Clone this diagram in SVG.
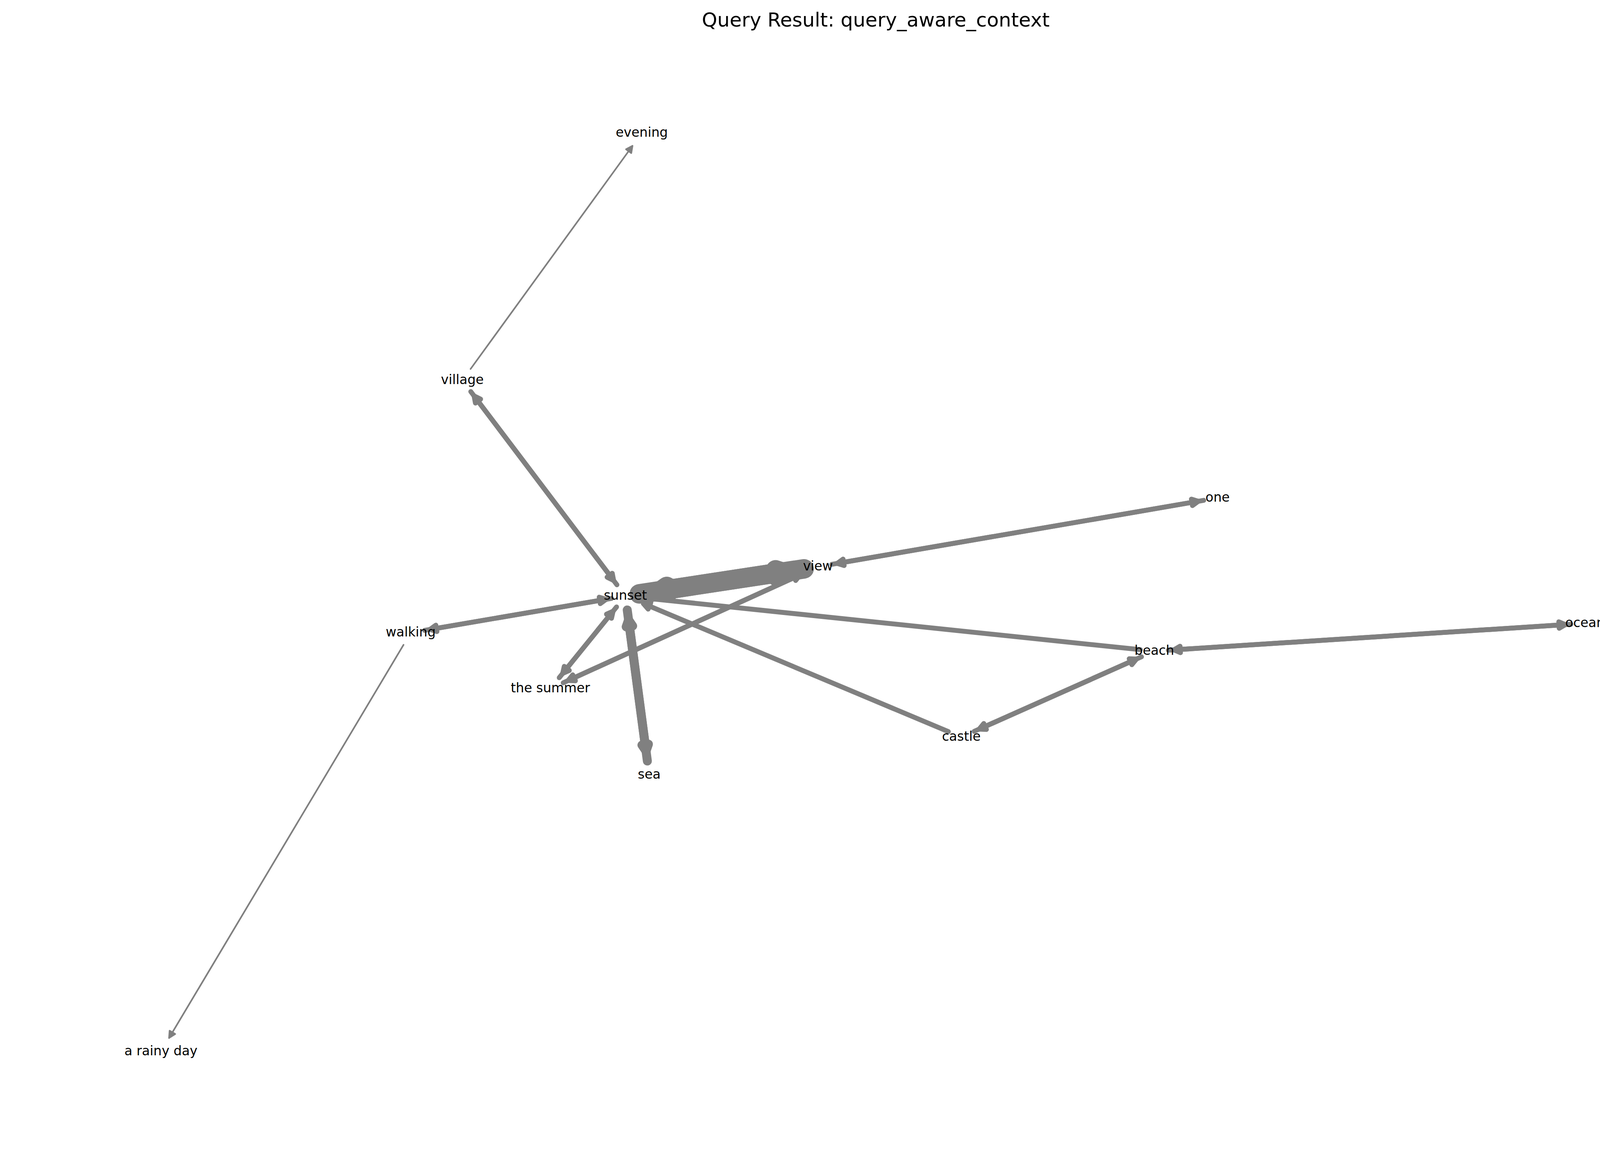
<svg xmlns="http://www.w3.org/2000/svg" width="4470" height="2969" viewBox="0 0 4470 2969">
<style>
.e{fill:none;stroke:#808080;stroke-linecap:round;stroke-linejoin:round}
.h{fill:#808080;stroke:#808080;stroke-linejoin:round}
.w1{stroke-width:4.17}
.w3{stroke-width:12.5}
.w6{stroke-width:23}
.w12{stroke-width:50}
.lbl{font-family:"DejaVu Sans","Liberation Sans",sans-serif;font-size:33.33px;fill:#000;text-anchor:middle}
.title{font-family:"DejaVu Sans","Liberation Sans",sans-serif;font-size:50px;fill:#000;text-anchor:middle}
</style>
<rect x="0" y="0" width="4470" height="2969" fill="#ffffff"/>
<text class="title" x="2242" y="68">Query Result: query_aware_context</text>
<g id="connectors">
<g id="e-village-evening" class="w1"><line class="e w1" x1="1204.65" y1="944.37" x2="1619.11" y2="373.40"/><polygon class="h w1" points="1619.11,373.40 1616.06,391.78 1602.58,382.00"/></g>
<g id="e-sunset-village"><line class="e w3" x1="1579.28" y1="1496.79" x2="1213.65" y2="1013.36"/><polygon class="h w3" points="1213.65,1013.36 1217.07,1031.68 1230.35,1021.64"/></g>
<g id="e-village-sunset"><line class="e w3" x1="1205.22" y1="1002.21" x2="1570.85" y2="1485.64"/><polygon class="h w3" points="1570.85,1485.64 1554.15,1477.36 1567.43,1467.32"/></g>
<g id="e-walking-rainy"><line class="e w1" x1="1033.06" y1="1650.42" x2="432.83" y2="2656.58"/><polygon class="h w1" points="432.83,2656.58 434.22,2637.99 448.52,2646.53"/></g>
<g id="e-sunset-walking"><line class="e w3" x1="1565.51" y1="1531.57" x2="1100.77" y2="1611.07"/><polygon class="h w3" points="1100.77,1611.07 1118.60,1616.47 1115.80,1600.05"/></g>
<g id="e-walking-sunset"><line class="e w3" x1="1086.99" y1="1613.43" x2="1551.73" y2="1533.93"/><polygon class="h w3" points="1551.73,1533.93 1536.70,1544.95 1533.90,1528.53"/></g>
<g id="e-sunset-view"><line class="e w12" x1="1636.59" y1="1520.09" x2="2003.15" y2="1464.32"/><polygon class="h w12" points="2003.15,1464.32 1987.92,1475.07 1985.42,1458.59"/></g>
<g id="e-view-sunset"><line class="e w12" x1="2058.41" y1="1455.91" x2="1691.85" y2="1511.68"/><polygon class="h w12" points="1691.85,1511.68 1709.58,1517.41 1707.08,1500.93"/></g>
<g id="e-view-one"><line class="e w3" x1="2129.48" y1="1444.39" x2="3067.74" y2="1282.98"/><polygon class="h w3" points="3067.74,1282.98 3052.72,1294.02 3049.90,1277.60"/></g>
<g id="e-one-view"><line class="e w3" x1="3081.52" y1="1280.61" x2="2143.26" y2="1442.02"/><polygon class="h w3" points="2143.26,1442.02 2161.10,1447.40 2158.28,1430.98"/></g>
<g id="e-view-summer"><line class="e w3" x1="2061.24" y1="1465.42" x2="1454.48" y2="1741.79"/><polygon class="h w3" points="1454.48,1741.79 1466.20,1727.30 1473.10,1742.46"/></g>
<g id="e-summer-view"><line class="e w3" x1="1441.76" y1="1747.58" x2="2048.52" y2="1471.21"/><polygon class="h w3" points="2048.52,1471.21 2029.90,1470.54 2036.80,1485.70"/></g>
<g id="e-sunset-summer"><line class="e w3" x1="1578.34" y1="1553.47" x2="1440.46" y2="1723.67"/><polygon class="h w3" points="1440.46,1723.67 1444.48,1705.48 1457.42,1715.96"/></g>
<g id="e-summer-sunset"><line class="e w3" x1="1431.66" y1="1734.53" x2="1569.54" y2="1564.33"/><polygon class="h w3" points="1569.54,1564.33 1552.58,1572.04 1565.52,1582.52"/></g>
<g id="e-sunset-sea"><line class="e w6" x1="1605.75" y1="1561.19" x2="1653.86" y2="1922.32"/><polygon class="h w6" points="1653.86,1922.32 1643.40,1906.90 1659.92,1904.70"/></g>
<g id="e-sea-sunset"><line class="e w6" x1="1657.25" y1="1947.81" x2="1609.14" y2="1586.68"/><polygon class="h w6" points="1609.14,1586.68 1603.08,1604.30 1619.60,1602.10"/></g>
<g id="e-beach-sunset"><line class="e w3" x1="2919.19" y1="1662.77" x2="1650.71" y2="1530.68"/><polygon class="h w3" points="1650.71,1530.68 1668.15,1524.12 1666.43,1540.70"/></g>
<g id="e-castle-sunset"><line class="e w3" x1="2427.80" y1="1872.57" x2="1647.09" y2="1544.84"/><polygon class="h w3" points="1647.09,1544.84 1665.68,1543.61 1659.24,1558.97"/></g>
<g id="e-beach-ocean"><line class="e w3" x1="2990.92" y1="1664.19" x2="4007.63" y2="1598.71"/><polygon class="h w3" points="4007.63,1598.71 3991.53,1608.09 3990.45,1591.47"/></g>
<g id="e-ocean-beach"><line class="e w3" x1="4021.58" y1="1597.81" x2="3004.87" y2="1663.29"/><polygon class="h w3" points="3004.87,1663.29 3022.05,1670.53 3020.97,1653.91"/></g>
<g id="e-beach-castle"><line class="e w3" x1="2922.11" y1="1681.14" x2="2506.66" y2="1866.17"/><polygon class="h w3" points="2506.66,1866.17 2518.50,1851.78 2525.28,1867.00"/></g>
<g id="e-castle-beach"><line class="e w3" x1="2493.89" y1="1871.86" x2="2909.34" y2="1686.83"/><polygon class="h w3" points="2909.34,1686.83 2890.72,1686.00 2897.50,1701.22"/></g>
</g>
<g id="node-sunset"><text class="lbl" x="1601" y="1535">sunset</text></g>
<g id="node-view"><text class="lbl" x="2094" y="1460">view</text></g>
<g id="node-the-summer"><text class="lbl" x="1409" y="1772">the summer</text></g>
<g id="node-sea"><text class="lbl" x="1662" y="1993">sea</text></g>
<g id="node-beach"><text class="lbl" x="2955" y="1676">beach</text></g>
<g id="node-castle"><text class="lbl" x="2461" y="1896">castle</text></g>
<g id="node-evening"><text class="lbl" x="1643" y="350">evening</text></g>
<g id="node-village"><text class="lbl" x="1183.5" y="983">village</text></g>
<g id="node-walking"><text class="lbl" x="1051.5" y="1629">walking</text></g>
<g id="node-one"><text class="lbl" x="3117" y="1284">one</text></g>
<g id="node-ocean"><text class="lbl" x="4057.5" y="1605">ocean</text></g>
<g id="node-a-rainy-day"><text class="lbl" x="412" y="2701">a rainy day</text></g>
</svg>
